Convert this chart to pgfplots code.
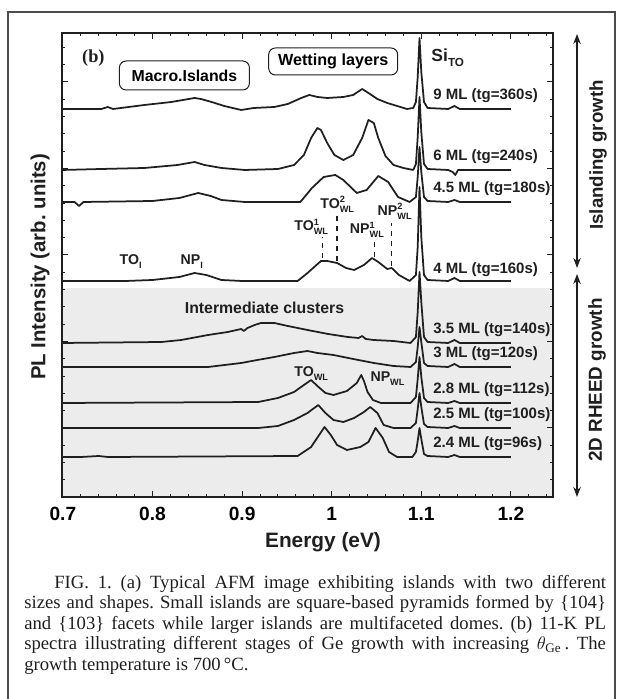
\documentclass[border=0pt]{standalone}
\usepackage{fontspec}
\setmainfont{Liberation Serif}
\setsansfont{Liberation Sans}
\usepackage{pgfplots}
\pgfplotsset{compat=1.18}
\usetikzlibrary{arrows.meta}
\definecolor{bgshade}{gray}{0.925}
\definecolor{ink}{gray}{0.12}
\newcommand{\lab}{\sffamily\bfseries}
\newcommand{\ssub}[1]{\raisebox{-0.45ex}{\fontsize{5.5}{6}\selectfont #1}}
\newcommand{\supsub}[2]{\makebox[0pt][l]{\raisebox{0.8ex}{\fontsize{5.5}{6}\selectfont #1}}\raisebox{-0.45ex}{\fontsize{5.5}{6}\selectfont #2}}
\pgfplotsset{spec/.style={draw=ink, solid, line width=1.05pt, line join=round, mark=none}}
\frenchspacing
\begin{document}
\begin{tikzpicture}
\useasboundingbox (0,0) rectangle (370.8pt,419.4pt);
\begin{axis}[
  at={(37.2pt,121.2pt)}, anchor=south west, scale only axis,
  width=294.6pt, height=278.4pt,
  xmin=0.699, xmax=1.247, ymin=0, ymax=464,
  xtick={0.7,0.8,0.9,1.0,1.1,1.2},
  minor xtick={0.72,0.74,...,1.245},
  ytick={69,155.5,242,328.5,415}, yticklabels={},
  minor ytick={17.1,34.4,...,464},
  major tick length=3.5pt, minor tick length=2pt,
  tick style={line width=0.6pt, ink},
  axis line style={line width=1pt, ink},
  axis on top, clip=false,
  /pgf/number format/assume math mode=true,
  xticklabel style={font=\lab\fontsize{11.5}{12}\selectfont, yshift=-2.5pt},
]
\fill[bgshade] (axis cs:0.699,0) rectangle (axis cs:1.247,209);

% 9 ML
\addplot[spec] coordinates {(0.699,388)(0.743,388)(0.750,390)(0.756,388)(0.791,392)(0.821,395)(0.847,399)(0.854,398)(0.866,395)(0.880,391)(0.899,387)(0.913,389)(0.936,390)(0.951,393)(0.966,399)(0.975,402)(0.984,400)(0.995,399)(1.013,400)(1.024,402)(1.034,408)(1.041,404)(1.051,398)(1.062,394)(1.073,391)(1.084,388)(1.091,389)(1.094,395)(1.096,420)(1.098,459)(1.100,425)(1.103,395)(1.107,389)(1.13,388)(1.137,391)(1.143,388)(1.2,388)};
% 6 ML
\addplot[spec] coordinates {(0.699,327)(0.743,328)(0.791,329)(0.828,332)(0.847,335)(0.858,332)(0.877,329)(0.903,327)(0.940,328)(0.958,332)(0.969,342)(0.977,359)(0.984,369)(0.988,367)(0.995,354)(1.003,342)(1.013,337)(1.024,342)(1.034,359)(1.041,377)(1.047,374)(1.052,359)(1.060,341)(1.069,332)(1.080,329)(1.091,327)(1.094,333)(1.096,360)(1.098,400)(1.100,365)(1.103,333)(1.107,328)(1.13,327)(1.135,325)(1.138,322)(1.141,327)(1.2,327)};
% 4.5 ML
\addplot[spec] coordinates {(0.699,295)(0.713,295)(0.718,291)(0.723,295)(0.80,296)(0.83,299)(0.851,304)(0.865,301)(0.877,297)(0.903,295)(0.965,295)(0.978,309)(0.991,320)(1.004,322)(1.013,317)(1.028,304)(1.039,307)(1.052,321)(1.063,315)(1.074,300)(1.087,295)(1.094,300)(1.096,320)(1.098,350)(1.100,325)(1.103,300)(1.107,296)(1.13,295)(1.137,297)(1.143,295)(1.2,295)};
% 4 ML
\addplot[spec] coordinates {(0.699,216)(0.77,216)(0.80,217)(0.83,220)(0.847,224)(0.860,222)(0.877,217)(0.90,216)(0.962,216)(0.973,224)(0.988,236)(0.995,236)(1.006,234)(1.016,229)(1.025,227)(1.036,232)(1.045,239)(1.052,235)(1.062,228)(1.067,229)(1.075,222)(1.087,216)(1.094,222)(1.096,250)(1.098,310)(1.100,260)(1.103,222)(1.107,217)(1.13,216)(1.137,219)(1.143,216)(1.2,216)};
% 3.5 ML
\addplot[spec] coordinates {(0.699,154)(0.810,155)(0.832,157)(0.862,162)(0.884,165)(0.899,168)(0.902,166)(0.906,169)(0.914,172)(0.921,174)(0.936,174)(0.951,171)(0.973,167)(0.996,163)(1.018,160)(1.030,159)(1.034,161)(1.038,158)(1.047,157)(1.069,156)(1.088,154)(1.094,160)(1.096,185)(1.098,225)(1.100,195)(1.103,160)(1.107,155)(1.13,154)(1.137,157)(1.143,154)(1.2,154)};
% 3 ML
\addplot[spec] coordinates {(0.699,130)(0.862,130)(0.899,134)(0.917,137)(0.936,140)(0.958,144)(0.973,146)(0.984,144)(1.002,142)(1.024,138)(1.047,134)(1.069,131)(1.088,130)(1.094,135)(1.096,150)(1.098,170)(1.100,155)(1.103,134)(1.107,131)(1.13,130)(1.137,133)(1.143,130)(1.2,130)};
% 2.8 ML
\addplot[spec] coordinates {(0.699,94)(0.918,95)(0.940,99)(0.958,105)(0.969,112)(0.977,117)(0.984,111)(0.993,104)(1.002,102)(1.017,106)(1.028,114)(1.033,122)(1.036,116)(1.040,105)(1.046,97)(1.055,94)(1.088,94)(1.094,100)(1.096,118)(1.098,140)(1.100,120)(1.103,99)(1.107,95)(1.13,94)(1.137,96)(1.143,94)(1.2,94)};
% 2.5 ML
\addplot[spec] coordinates {(0.699,69)(0.918,69)(0.940,71)(0.958,77)(0.973,84)(0.985,92)(0.993,84)(1.002,77)(1.013,75)(1.025,79)(1.036,85)(1.043,90)(1.051,84)(1.058,72)(1.069,69)(1.088,69)(1.094,74)(1.096,88)(1.098,104)(1.100,90)(1.103,73)(1.107,70)(1.13,69)(1.137,71)(1.143,69)(1.2,69)};
% 2.4 ML
\addplot[spec] coordinates {(0.699,40)(0.72,40)(0.74,41)(0.75,40)(0.962,41)(0.977,50)(0.986,62)(0.992,70)(0.999,62)(1.006,52)(1.017,47)(1.032,50)(1.041,55)(1.049,69)(1.057,59)(1.064,45)(1.073,40)(1.090,40)(1.094,45)(1.096,56)(1.098,69)(1.100,58)(1.103,43)(1.107,41)(1.13,40)(1.137,42)(1.143,40)(1.2,40)};

% dashed markers
\draw[ink, dashed, line width=0.7pt] (axis cs:0.990,239) -- (axis cs:0.990,260);
\draw[ink, dashed, line width=0.7pt] (axis cs:1.006,236) -- (axis cs:1.006,282);
\draw[ink, dashed, line width=0.7pt] (axis cs:1.048,240) -- (axis cs:1.048,257);
\draw[ink, dashed, line width=0.7pt] (axis cs:1.067,231) -- (axis cs:1.067,274);

% boxes
\node[draw=ink, line width=0.6pt, rounded corners=4pt, minimum width=78pt, minimum height=17.4pt, inner sep=0pt, font=\lab\fontsize{9.5}{11}\selectfont] at (axis cs:0.8356,421.5) {Macro.Islands};
\node[draw=ink, line width=0.6pt, rounded corners=4pt, minimum width=77.4pt, minimum height=16.2pt, inner sep=0pt, font=\lab\fontsize{9.7}{11}\selectfont] at (axis cs:1.0017,435.5) {Wetting layers};
\node[font=\bfseries\fontsize{11}{12}\selectfont, ink] at (axis cs:0.734,439) {(b)};
\node[anchor=base west, inner sep=0pt, font=\lab\fontsize{10.5}{12}\selectfont, ink] at (axis cs:1.111,435) {Si\raisebox{-0.45ex}{\fontsize{7}{8}\selectfont TO}};

% peak labels
\begin{scope}[every node/.style={anchor=base west, inner sep=0pt, font=\lab\fontsize{8.5}{10}\selectfont, ink}]
\node at (axis cs:0.763,232) {TO\ssub{I}};
\node at (axis cs:0.831,232) {NP\ssub{I}};
\node at (axis cs:0.958,266) {TO\supsub{1}{WL}};
\node at (axis cs:0.987,288) {TO\supsub{2}{WL}};
\node at (axis cs:1.020,263) {NP\supsub{1}{WL}};
\node at (axis cs:1.051,281) {NP\supsub{2}{WL}};
\node at (axis cs:0.958,120) {TO\ssub{WL}};
\node at (axis cs:1.043,115) {NP\ssub{WL}};
\end{scope}
\node[font=\lab\fontsize{9.5}{11}\selectfont, ink] at (axis cs:0.925,189) {Intermediate clusters};

% spectrum labels
\begin{scope}[every node/.style={anchor=base west, inner sep=0pt, font=\lab\fontsize{9}{10}\selectfont, ink}]
\node at (axis cs:1.113,397) {9 ML (tg=360s)};
\node at (axis cs:1.113,336) {6 ML (tg=240s)};
\node at (axis cs:1.113,304) {4.5 ML (tg=180s)};
\node at (axis cs:1.113,223) {4 ML (tg=160s)};
\node at (axis cs:1.113,163) {3.5 ML (tg=140s)};
\node at (axis cs:1.113,139) {3 ML (tg=120s)};
\node at (axis cs:1.113,103) {2.8 ML (tg=112s)};
\node at (axis cs:1.113,78) {2.5 ML (tg=100s)};
\node at (axis cs:1.113,49) {2.4 ML (tg=96s)};
\end{scope}
\end{axis}

\begin{scope}[shift={(0pt,419.4pt)}, x=0.6pt, y=-0.6pt]
\draw[gray!60!black, line width=1.2pt] (8,699) -- (8,12) -- (615,12) -- (615,699);
\node[rotate=90, font=\lab\fontsize{12.2}{14}\selectfont, ink] at (40,267) {PL Intensity (arb. units)};
\node[font=\lab\fontsize{12.5}{14}\selectfont, ink] at (323,542) {Energy (eV)};
\draw[ink, line width=0.8pt, {Stealth[length=6pt,width=4.5pt]}-{Stealth[length=6pt,width=4.5pt]}] (577,34) -- (577,268);
\draw[ink, line width=0.8pt, {Stealth[length=6pt,width=4.5pt]}-{Stealth[length=6pt,width=4.5pt]}] (577,274) -- (577,497);
\node[rotate=90, font=\lab\fontsize{11.2}{13}\selectfont, ink] at (598,155) {Islanding growth};
\node[rotate=90, font=\lab\fontsize{11.3}{13}\selectfont, ink] at (597,380) {2D RHEED growth};
\node[anchor=north west, inner sep=0pt, text width=349pt, align=justify, font=\fontsize{11.2}{12.3}\selectfont, ink] at (24,575)
{\hspace*{18pt}FIG. 1. (a) Typical AFM image exhibiting islands with two different\linebreak
sizes and shapes. Small islands are square-based pyramids formed by \{104\}\linebreak
and \{103\} facets while larger islands are multifaceted domes. (b) 11-K PL\linebreak
spectra illustrating different stages of Ge growth with increasing $\theta_{\mathrm{Ge}}$\,. The\linebreak
growth temperature is 700\,°C.};
\end{scope}
\end{tikzpicture}
\end{document}
